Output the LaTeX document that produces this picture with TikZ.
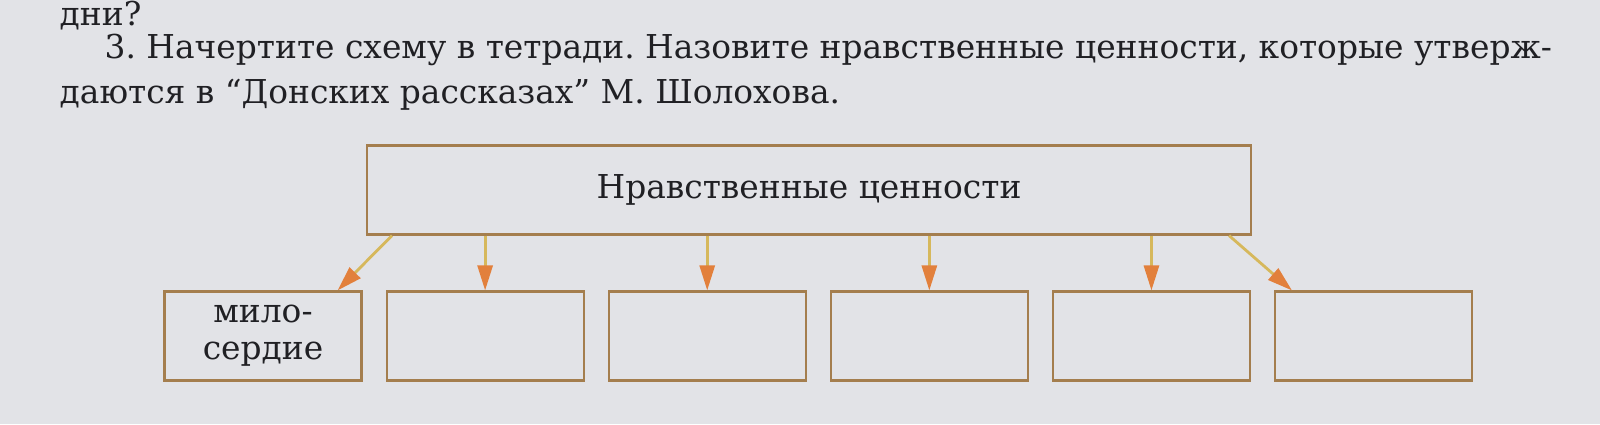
\documentclass[tikz,border=0pt]{standalone}
\usepackage{fontspec}
\setmainfont{DejaVu Serif}
\usetikzlibrary{positioning,arrows.meta}
\definecolor{paper}{RGB}{226,227,231}
\definecolor{frame}{RGB}{164,126,78}
\definecolor{stem}{RGB}{214,184,92}
\definecolor{tip}{RGB}{226,128,60}
\definecolor{ink}{RGB}{32,32,36}
\frenchspacing

\begin{document}
\begin{tikzpicture}[font=\fontsize{9.35}{10.6}\selectfont, text=ink,
  box/.style={draw=frame, line width=0.6pt, minimum height=0.89cm, inner sep=0pt},
  valbox/.style={box, minimum width=1.97cm, align=center},
  link/.style={draw=stem, line width=0.8pt, -{Triangle[length=0.25cm, width=0.15cm, color=tip]}},
  textline/.style={anchor=base west, inner sep=0pt}]
  \useasboundingbox[fill=paper] (0,0) rectangle (16,4.24);
  % task text
  \node[textline] (q0) at (0.59,3.98) {дни?};
  \node[textline] (q1) at (1.04,3.66) {3. Начертите схему в тетради. Назовите нравственные ценности, которые утверж-};
  \node[textline] (q2) at (0.59,3.20) {даются в “Донских рассказах” М. Шолохова.};
  % scheme
  \node[box, minimum width=8.84cm] (head) at (8.09,2.34) {Нравственные ценности};
  \node[valbox] (v1) at (2.63,0.88) {мило-\\сердие};
  \node[valbox, right=0.23cm of v1] (v2) {};
  \node[valbox, right=0.23cm of v2] (v3) {};
  \node[valbox, right=0.23cm of v3] (v4) {};
  \node[valbox, right=0.23cm of v4] (v5) {};
  \node[valbox, right=0.23cm of v5] (v6) {};
  \coordinate (a1) at ([xshift=0.26cm]head.south west);
  \coordinate (b1) at ([xshift=-0.25cm]v1.north east);
  \coordinate (a6) at ([xshift=-0.23cm]head.south east);
  \coordinate (b6) at ([xshift=0.18cm]v6.north west);
  \draw[link] (a1) -- (b1);
  \foreach \i in {2,...,5}
    \draw[link] (head.south -| v\i.north) -- (v\i.north);
  \draw[link] (a6) -- (b6);
\end{tikzpicture}
\end{document}
